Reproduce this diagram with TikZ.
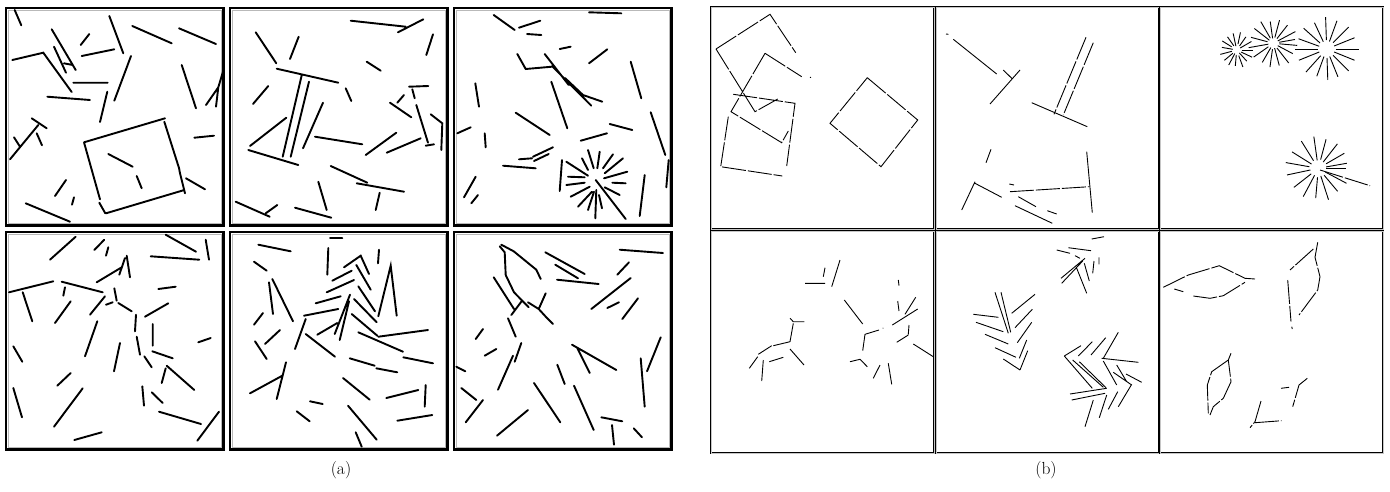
\documentclass[tikz,border=0pt]{standalone}
\usepackage{fontspec}
\begin{document}
\begin{tikzpicture}[x=1pt,y=-1pt,
  seg/.style={line width=1.9pt,line cap=round},
  fine/.style={line width=0.9pt},
  brk/.style={line width=0.9pt,dash pattern=on 24pt off 2pt},
  cellA/.style={draw=black,line width=2.7pt},
  cellAin/.style={draw=gray!55,line width=0.9pt},
  cellB/.style={draw=black,double=gray!45,line width=0.7pt,double distance=0.9pt},
  lab/.style={font=\fontsize{17.5}{21}\selectfont,inner sep=0pt}]
\useasboundingbox (0,0) rectangle (1390,491);
% ---- frames (a)
\foreach \x in {6,230,454}{
  \foreach \y in {8,232}{
    \draw[cellA] (\x,\y) rectangle ++(217.5,217.3);
    \draw[cellAin] (\x+2.2,\y+2.2) rectangle ++(213.1,212.9);
  }}
% ---- frames (b)
\foreach \x in {711,936,1160}{
  \foreach \y in {7,231}{
    \draw[cellB] (\x,\y) rectangle ++(223,222);
  }}
% ================= cell a1
\draw[seg] (14.7,10)--(21.3,25.3) (109.3,16)--(123.3,53.3) (132.3,26)--(171.7,43.3)
 (179,28.3)--(216,44) (51.7,29.3)--(75.7,70) (54,46.7)--(66,72.7)
 (12.3,60)--(43.3,52.7)--(71.7,92) (80.7,45)--(89.3,34) (81.7,56)--(114.3,49.3)
 (64,63.3)--(72.7,65) (131,56)--(114.3,100.7) (73.3,82.7)--(107.7,82.7)
 (181.7,65)--(196,108.3) (223.3,70.7)--(218.3,87.3)--(206,105) (218.3,87.3)--(216,106.7)
 (47.3,96.7)--(90,100) (107.3,91.7)--(100,122) (31.7,118.3)--(46.7,128.3)
 (38.3,125)--(10,159.3) (36.7,133.3)--(42,145.3) (14,137.3)--(20,146.7)
 (84,142.3)--(165,118.3) (164.3,121.7)--(179,168)--(180,173.3)--(185,193.3)
 (84,142.3)--(100,199.3) (106,213.3)--(184.3,190) (99.3,202.7)--(105.3,213.3)
 (194.3,137.7)--(214,135.7) (108.3,154)--(132.7,166.7) (136.7,176)--(141.7,188.3)
 (66,180)--(55,196) (74,197.3)--(72,204.7) (186,178.3)--(205,189.3) (25.7,203.3)--(70,221.7);
% ================= cell a2
\draw[seg] (350.7,20.7)--(405.7,26.7) (398,32.3)--(423.3,19.3) (255.7,32.3)--(276.3,63.3)
 (298.7,36.7)--(290,59) (433,34.3)--(426.3,55) (366.7,61.7)--(380.7,70.7)
 (276.7,68.7)--(338.3,82.7) (301.7,75.3)--(282.7,156.7) (309,81.7)--(290.7,156.7)
 (268.3,86)--(253,104) (345.7,88.3)--(351.3,101) (409,86.7)--(428.3,86)
 (412.3,89.3)--(414.7,98.3) (404,95)--(397.3,102.7) (390,102.7)--(411.3,117.3)
 (416.3,105)--(428,142.7) (323,102.7)--(303,148.3) (430.7,114.3)--(442.3,123.3)--(441.3,150)
 (286.3,117.7)--(250,146) (315,136.7)--(362.3,144.3) (396.3,132.7)--(365.7,155)
 (420.7,138.3)--(386.7,152.7) (425.7,145.7)--(434,144.3) (248.3,150)--(298.3,165)
 (330.7,166)--(367.3,182.7) (356.7,183.3)--(404,191.7) (379.7,192.7)--(375.7,210)
 (318.3,181.7)--(326.7,210) (235.7,201.7)--(269.7,216.7) (265.7,213.3)--(277.3,205)
 (295,207.7)--(331.3,217.7);
% ================= cell a3
\draw[seg] (493.7,15)--(514.7,30) (519,27.7)--(540.3,20.7) (589,12.3)--(621.3,13.3)
 (527,34)--(541.3,35) (559.7,49)--(570.7,46.7) (607.3,49.3)--(589,63.3)
 (517.3,54)--(525.7,69)--(552,66.7) (544.7,54)--(568.7,85) (552,66)--(591.3,105.7)
 (565,78)--(583,95)--(602.3,101.7) (630.7,61.7)--(641.3,98.3) (475.3,83.3)--(479,106.7)
 (551.3,81.7)--(567.3,128.3) (515.7,112.7)--(549.7,135) (650.7,112.3)--(665.3,155)
 (457.3,133.3)--(470.7,127.3) (484.7,133.3)--(485.7,147.3) (609.7,124)--(632.3,130)
 (580.7,140.7)--(607,133.3) (519,159.3)--(532,158.3) (533,156.7)--(553,147.3)
 (534,161)--(548.7,154) (503,165.7)--(535.7,168.3) (562,160)--(559.7,191)
 (644.7,175)--(639.7,216) (668.7,160)--(666.3,187.3) (475.7,176.7)--(464,197.3)
 (478,195)--(471.3,203.3);
\draw[seg] (588,150)--(593.7,168.3) (599.7,151.7)--(597.3,168.3) (613,154.3)--(603,168.3)
 (582,158.3)--(588,170) (566.3,161.7)--(588,175.7) (623,158.3)--(604.7,173.3)
 (627.3,171.7)--(604,178.3) (568,176.7)--(584.7,177.3) (566.3,185)--(584.7,182.7)
 (612.3,182.7)--(625.7,183.3) (570.7,196.7)--(589.7,186.7) (604.7,187.3)--(619.7,195)
 (578,206.7)--(592,191.7) (588,210)--(594,191.7) (595.3,218.3)--(596.3,190)
 (602,208.3)--(599,195) (595.7,180)--(625.7,219);
% ================= cell a4
\draw[seg] (75.7,236.7)--(50,259.7) (104.3,239.7)--(94.3,250) (108.3,247.3)--(106,255.7)
 (165.7,234.7)--(196,251.7) (205.7,239.7)--(209,259.7) (150.7,256.3)--(199.3,259.7)
 (96.7,282.3)--(121.7,267.3) (126.7,255.7)--(130,277.3) (125,258)--(119.3,274.7)
 (9,292.3)--(53.3,281.3) (61.7,281.7)--(102.7,292.3) (65,287.3)--(63.3,295.7)
 (22.7,292.3)--(32.3,321.3) (70.7,301.3)--(55,323) (105,296.3)--(90,314.7)
 (114.3,288.3)--(116.7,300.7) (106,304.7)--(112.7,302.3) (118.3,303)--(131.7,311.3)
 (158.3,289)--(175.7,286.7) (168.3,303.3)--(145,316.7) (136,314.7)--(135,331.3)
 (152.7,324)--(152.7,345.7) (97.3,321.3)--(85,356.3) (136.7,336.7)--(140,354.7)
 (210.7,338)--(198.3,342.3) (13.3,346.3)--(22.3,361.7) (120,343)--(114,371.3)
 (152.3,351.3)--(172.7,358.3) (144.3,356.3)--(151.7,367.3) (166.7,365.7)--(194.3,390)
 (165.7,368.3)--(161.7,383) (70.7,373)--(57.3,385.7) (13.3,388)--(22,417.3)
 (82.7,388.3)--(54,426.7) (142.3,386.3)--(144,405.7) (151.7,392.3)--(162.7,403)
 (159,411.7)--(201,424) (219,411.7)--(197.3,440.7) (74.3,440)--(101.7,432.3);
% ================= cell a5
\draw[seg] (330,238)--(342.3,238) (258.3,244.7)--(290.7,251.3) (328.3,248)--(327.3,274.7)
 (379,249.7)--(378,263.3) (254,261.7)--(266.7,270.7) (344,267.3)--(360.7,255.7)--(369,274)
 (356.3,265)--(370.7,289.7) (332.3,280.7)--(351.7,270.7) (326.7,292.3)--(354,280)
 (269,282.3)--(273,314) (272.3,279)--(293,321.3) (378.3,316.3)--(390.7,265.7)--(396.7,315.7)
 (358.3,286.3)--(375,311.3) (315.7,303.3)--(340.7,296.3) (354,299)--(376.7,322.3)
 (304,315.7)--(338.3,309) (350,294.7)--(334.7,334) (349,301.3)--(339.7,340)
 (351.7,314)--(377.3,335.7) (263,313)--(254,324.7) (305.7,319)--(295,349)
 (317.3,334.7)--(337.3,323) (280,330)--(265,344) (378.3,336.7)--(428,330)
 (358.3,332.3)--(403,351.7) (305.7,334)--(335,356.7) (255,341.3)--(266.7,359)
 (349.7,358.3)--(374.7,365.7) (403.3,357.3)--(433,363.3) (376.3,368.3)--(397.3,372.3)
 (286,362.3)--(276.7,399) (282.3,375.7)--(250,393.3) (343,378)--(369.7,399.7)
 (386.3,398)--(418.3,390) (425.7,385)--(424.7,406.7) (310,401.3)--(322.7,404)
 (296.7,411.3)--(309.7,421.3) (348,405.7)--(376.7,439.7) (397.3,420.7)--(432.3,415)
 (355.7,432.3)--(361.7,446.7);
% ================= cell a6
\draw[seg,line join=round] (501.3,244.7)--(513.7,251.3)--(536.3,269.7)--(540.7,279)
 (499.7,246.3)--(504.7,252.3)--(505.7,275)--(514,292.3)--(528.7,307.3)
 (528,302.3)--(538.7,309)--(546.3,317.3)--(553,324) (545.7,293.3)--(538.7,309)
 (545.3,252.3)--(584.7,274) (555.3,264.7)--(578,278.3) (619.7,249.7)--(663,253)
 (629,262.3)--(617.3,274.7) (557,279.7)--(598.7,284) (493.7,277.3)--(514,309)
 (630.7,278)--(591.3,309) (619,302.3)--(607.3,308) (638,298.3)--(622.3,319)
 (521.3,301.7)--(511.3,315) (508,318.3)--(515.7,336.7) (483,329)--(475.7,339)
 (521.3,343)--(514.7,361.7) (496.3,349)--(484.7,355.7) (572,344.7)--(616.3,370)
 (577.3,348)--(589.7,373) (660.7,337.3)--(647,371.3) (513,355.7)--(498,389.7)
 (456.3,366.7)--(465.3,371.3) (557.3,364.7)--(564.7,384) (640.7,358.3)--(644.7,406.7)
 (534,383)--(560.3,422.3) (574,385.7)--(593.7,430) (461.3,388)--(476.3,400)
 (483,400)--(465.7,422.3) (528,410)--(497,435.7) (601.3,417.3)--(622.3,421.3)
 (612,425)--(614,444.7) (633.7,428.3)--(642,437.3);
% ================= cell b1
\draw[brk] (716,49)--(770,14.3)--(795.7,52.7) (716,49)--(755,111.7)--(777.7,99)
 (765,53.3)--(801.7,76.7) (765,53.3)--(731,111.7)--(781.7,142.7)--(788.3,131)
 (733.3,94.3)--(795,103.3)--(786.7,166) (728.3,116.7)--(720.7,166.7)--(782.3,176)
 (867.3,77.7)--(917.7,120)--(881,166.7)--(830,123.3)--cycle;
\draw[fine] (810,77.3)--(811,77.5);
% ================= cell b2
\draw[fine] (946,34)--(948.3,34.3) (953.3,39.3)--(996.7,74) (1003.3,70)--(1011.7,78.3)
 (1020,70)--(990,104) (1031.7,102.7)--(1087.3,126.7) (991,149.3)--(986,162.7)
 (975,181.7)--(961.7,210) (975,183.3)--(1001.7,197.3) (1009.3,184)--(1014,185)
 (1086.7,151.7)--(1092.3,212.7) (1018.3,196.7)--(1036,206.7) (1015,205.7)--(1052.3,223.3)
 (1047.3,210.7)--(1056.7,214);
\draw[brk] (1086,37.3)--(1054,114.3) (1093.3,42.7)--(1063.3,115) (1010,191.7)--(1089.3,186.7);
% ================= cell b3 (bursts)
\begin{scope}[shift={(1236.7,50)}]
 \foreach \a/\i/\o in {0/5/16,25/5/17,48/4/15,70/6/18,95/5/16,118/4/17,140/5/16,165/5/17,
   190/4/15,212/6/17,235/5/16,258/4/17,282/6/18,305/5/16,330/4/17}
   \draw[fine] (\a:\i)--(\a:\o);
\end{scope}
\begin{scope}[shift={(1273.3,43.3)}]
 \foreach \a/\i/\o in {5/6/24,28/5/22,52/6/25,75/5/23,98/6/24,120/5/22,145/6/24,170/5/25,
   195/6/23,218/5/24,240/6/25,262/5/22,285/6/24,308/6/23,332/5/25,350/6/22}
   \draw[fine] (\a:\i)--(\a:\o);
\end{scope}
\begin{scope}[shift={(1326.7,49)}]
 \foreach \a/\i/\o in {0/9/32,22/8/30,45/9/31,68/8/30,88/9/31,110/8/29,132/9/31,158/8/30,
   180/9/32,200/8/30,222/9/31,245/8/29,268/9/32,290/8/30,315/9/31,338/8/30}
   \draw[fine] (\a:\i)--(\a:\o);
\end{scope}
\begin{scope}[shift={(1318.3,168.3)}]
 \foreach \a/\i/\o in {0/8/28,28/8/32,50/9/30,72/8/33,95/9/30,118/8/32,142/9/31,168/8/32,
   190/9/33,212/8/31,238/9/32,262/8/32,285/9/30,308/8/31,330/9/30,350/8/29}
   \draw[fine] (\a:\i)--(\a:\o);
\end{scope}
\draw[brk] (1320,170)--(1370,185.7);
% ================= cell b4
\draw[fine] (805,283.3)--(825,283.3) (825,267.7)--(823.3,276.7) (840,260)--(831.7,286.7)
 (790,318.3)--(793.3,321.7)--(804.3,321.7) (793.3,323.3)--(790,341.7) (790,341.7)--(773.3,345.7)
 (771.7,345.7)--(758.3,354.3) (757.7,356.7)--(749.3,368.3) (763.3,360)--(761.7,381)
 (769.3,361.7)--(783.3,357.3) (790,349)--(804,365) (844.3,300)--(862.7,324)
 (865,334.3)--(879,330) (865,334.3)--(862.7,350.7) (882.7,328.3)--(883.3,328.1)
 (850,361.7)--(860,359.3)--(867.3,366.7) (880,365)--(873.3,378.3) (888.3,363.3)--(891.7,384.3)
 (898.3,280)--(899,285.7) (897.7,301)--(899,311) (915.7,297.3)--(905,314.3)
 (917.7,309)--(892.3,325) (909,325)--(908.3,334.3) (908.3,335)--(896.7,342.3)
 (913.3,344)--(933.3,356.7);
% ================= cell b5
\draw[fine] (1091.7,239)--(1104,236.7) (1056.7,250)--(1070,253.3) (1068.3,247.7)--(1091,250.7)
 (1075,255.7)--(1080,258.3) (1085,258.3)--(1061,278.3) (1082.7,261)--(1061.7,283.3)
 (1076.7,268.3)--(1086.7,293.3) (1084.3,263.3)--(1089.3,281) (1094,261)--(1092.7,273.3)
 (1099,257.3)--(1099,264.3)
 (995,292.3)--(1008.3,333.3) (1001,292.3)--(1010.7,332.3) (973.3,314.3)--(998.3,317.3)
 (976,322.3)--(1003.3,331.7) (985,334.3)--(1008.3,344) (995,347.7)--(1016,357.3)
 (1003.3,359)--(1020,370) (1035,294.3)--(1011.7,313.3) (1032.3,309.3)--(1015,327.7)
 (1031.7,322.3)--(1017.3,342.7) (1026.7,340)--(1019.3,358.3) (1027.7,350.7)--(1020,370)
 (1064.3,356)--(1081,345.7) (1092.3,341.7)--(1078.3,356) (1105.7,337.7)--(1091,355)
 (1118.3,332.3)--(1103.3,358.3) (1064.3,356)--(1092.3,388.3) (1072.7,360)--(1103.3,387.3)
 (1079.3,361.7)--(1106,387.7) (1101.7,358.3)--(1138.3,362.3) (1103.3,361)--(1116.7,385)
 (1116.7,365)--(1126.7,381.7) (1113.3,372.3)--(1131.7,385) (1126,374)--(1141.7,382.3)
 (1131.7,384.3)--(1118.3,406.7) (1117.7,391.7)--(1108.3,409.3) (1070,394)--(1106.7,388.3)
 (1071.7,400)--(1105,393.3) (1106.7,395)--(1099.3,417.7) (1093.3,400)--(1085,426.7);
% ================= cell b6 (leaves)
\draw[brk] (1163.3,287.3)--(1188.3,275)--(1219.3,265.7)--(1245,278.3)--(1255,279)
 (1193.3,296)--(1210,298.3)--(1223.3,295.7)--(1245,282.3)
 (1317.7,242.3)--(1315,257.3)--(1320,276.7)--(1317.7,290)--(1299,315)
 (1313.3,249)--(1290,270) (1287.7,280)--(1291,321.7)
 (1231,353.3)--(1228.3,360)--(1231,381.7)--(1223.3,398.3)--(1213.3,406.7)--(1210,415)
 (1228.3,360)--(1211.7,371.7)--(1207.3,385)--(1208.3,413.3)
 (1307.3,378.3)--(1299,385)--(1292.7,406.7) (1261,401)--(1255,421.7)--(1250,427.7)
 (1255,422.7)--(1281.7,420.7);
\draw[fine] (1174.3,289)--(1183.3,291.7) (1291.7,326.7)--(1292.3,329) (1281,388.3)--(1289,387.3);
% ---- labels
\node[lab] (la) at (341,470) {(a)};
\node[lab] (lb) at (1046,470) {(b)};
\end{tikzpicture}
\end{document}
